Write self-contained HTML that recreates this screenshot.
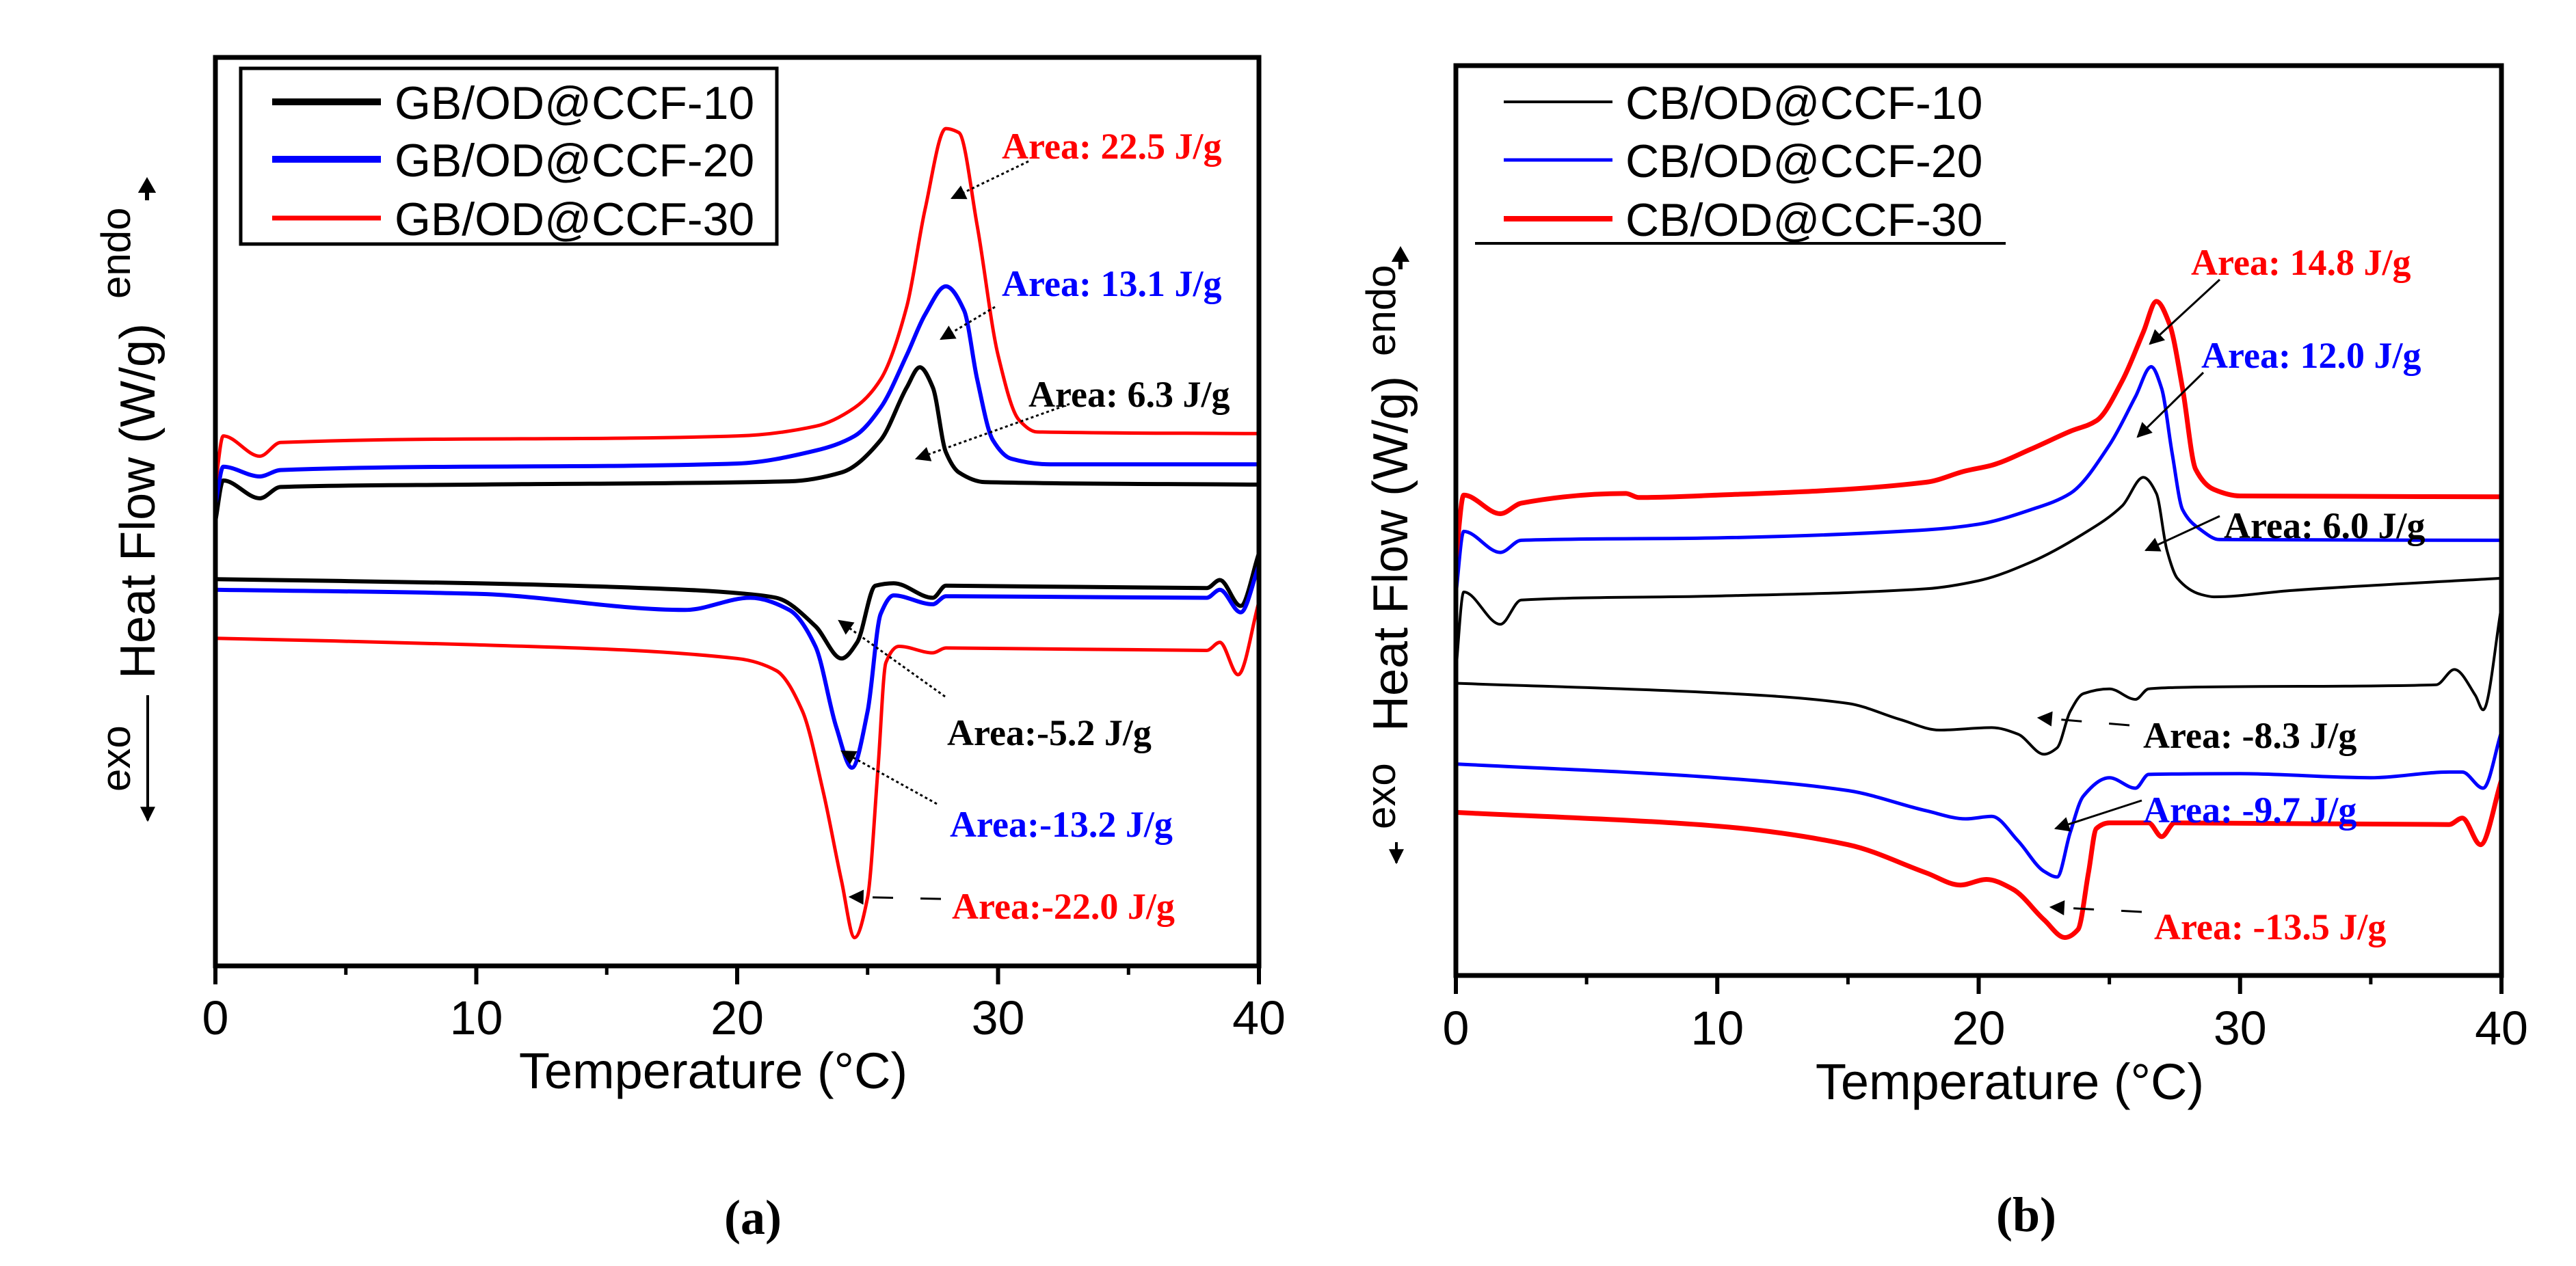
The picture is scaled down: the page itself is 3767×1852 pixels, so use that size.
<!DOCTYPE html>
<html><head><meta charset="utf-8"><style>
html,body{margin:0;padding:0;background:#fff;}
svg{display:block;}
</style></head><body>
<svg id="fig" width="3767" height="1852" viewBox="0 0 3767 1852" xmlns="http://www.w3.org/2000/svg" font-family="'Liberation Sans', sans-serif">
<defs>
<marker id="ahb" viewBox="0 0 10 10" refX="9" refY="5" markerWidth="26" markerHeight="22" markerUnits="userSpaceOnUse" orient="auto"><path d="M0,0 L10,5 L0,10 z" fill="#000"/></marker>
</defs>
<g id="panelA"></g>
<g id="panelB"></g>
<text x="1101" y="1805" font-family="'Liberation Serif', serif" font-weight="bold" font-size="72" text-anchor="middle">(a)</text>
<text x="2963" y="1801" font-family="'Liberation Serif', serif" font-weight="bold" font-size="72" text-anchor="middle">(b)</text>
</svg>
<script>
// ---------- data (temperature in °C, heat flow in arbitrary offset units) ----------
const xTickLabels = ["0","10","20","30","40"];
const xTickValues = [0,10,20,30,40];
const xMinorValues = [5,15,25,35];

// Panel (a)
const aSeriesNames = ["GB/OD@CCF-10","GB/OD@CCF-20","GB/OD@CCF-30"];
const aHeat10T = [0,0.3,1.7,2.5,10,22,24,25.5,26.5,27,27.5,28,28.5,29.5,40];
const aHeat10V = [5.50,6.00,5.78,5.92,5.95,5.99,6.10,6.50,7.15,7.40,7.15,6.35,6.10,5.98,5.95];
const aHeat20T = [0,0.3,1.7,2.5,20,23,24.5,25.5,26.5,27.2,28,28.7,29.2,29.8,30.5,32,40];
const aHeat20V = [5.70,6.17,6.05,6.13,6.21,6.37,6.55,6.90,7.55,8.05,8.40,8.10,7.25,6.50,6.27,6.20,6.20];
const aHeat30T = [0,0.3,1.7,2.5,20,23,24.5,25.5,26.5,27.2,28,28.5,29.2,30,30.8,31.5,40];
const aHeat30V = [5.95,6.55,6.30,6.47,6.55,6.67,6.90,7.25,8.15,9.35,10.35,10.30,9.15,7.55,6.75,6.60,6.58];
const aCool10T = [0,10,18,20.3,21.5,23,24,24.6,25.3,26,27.5,28,38,38.5,39.3,40];
const aCool10V = [4.78,4.73,4.65,4.60,4.55,4.20,3.80,4.00,4.70,4.73,4.55,4.70,4.67,4.77,4.45,5.10];
const aCool20T = [0,10,18,20.5,22,23,23.8,24.4,25,25.5,26,27.5,28,38,38.5,39.3,40];
const aCool20V = [4.65,4.60,4.40,4.55,4.40,3.95,2.95,2.45,3.15,4.35,4.58,4.47,4.57,4.55,4.65,4.37,4.95];
const aCool30T = [0,10,20,21.5,22.5,23.3,24,24.5,25,25.4,25.7,26.2,27.5,28,38,38.5,39.2,40];
const aCool30V = [4.05,3.97,3.80,3.65,3.15,2.15,1.05,0.35,0.85,2.45,3.75,3.95,3.87,3.93,3.90,4.00,3.60,4.50];
const aAreaLabels = ["Area: 22.5  J/g","Area: 13.1 J/g","Area: 6.3 J/g","Area:-5.2 J/g","Area:-13.2 J/g","Area:-22.0 J/g"];

// Panel (b)
const bSeriesNames = ["CB/OD@CCF-10","CB/OD@CCF-20","CB/OD@CCF-30"];
const bHeat10T = [0,0.3,1.7,2.5,10,18,20,22,24,25.5,26.3,26.8,27.2,27.6,28.5,29,32,40];
const bHeat10V = [3.77,4.75,4.35,4.65,4.70,4.79,4.89,5.12,5.47,5.82,6.17,5.97,5.27,4.92,4.72,4.69,4.77,4.92];
const bHeat20T = [0,0.3,1.7,2.5,10,18,20,22,23.5,25,26,26.6,27,27.4,27.8,28.5,29.2,40];
const bHeat20V = [4.72,5.50,5.24,5.39,5.42,5.52,5.59,5.77,5.97,6.57,7.17,7.54,7.27,6.47,5.77,5.52,5.40,5.39];
const bHeat30T = [0,0.3,1.7,2.5,6.5,7,10,18,19.5,20.5,22,23.5,24.5,25.5,26.3,26.8,27.3,27.8,28.3,29,30,40];
const bHeat30V = [5.17,5.95,5.72,5.85,5.97,5.92,5.95,6.11,6.25,6.32,6.52,6.74,6.87,7.37,7.97,8.35,8.07,7.27,6.27,6.02,5.94,5.93];
const bCool10T = [0,10,15,17,18.5,20.5,21.5,22.5,23,23.5,24,25,26,26.5,28,37.5,38.2,39,39.3,40];
const bCool10V = [3.62,3.50,3.37,3.17,3.04,3.07,2.99,2.74,2.82,3.27,3.49,3.55,3.42,3.55,3.57,3.60,3.79,3.47,3.29,4.57];
const bCool20T = [0,10,15,18,19.5,20.5,21.5,22.5,23,23.5,24,25,26,26.5,30,35,38,38.5,39.3,40];
const bCool20V = [2.62,2.45,2.29,2.04,1.94,1.97,1.67,1.29,1.22,1.77,2.22,2.45,2.32,2.49,2.50,2.45,2.52,2.52,2.32,3.02];
const bCool30T = [0,10,15,18,19.3,20.3,21.3,22.5,23.3,23.8,24.2,24.5,25,26.5,27,27.5,38,38.5,39.2,40];
const bCool30V = [2.02,1.85,1.62,1.27,1.12,1.19,1.07,0.69,0.47,0.57,1.27,1.82,1.89,1.89,1.72,1.89,1.87,1.95,1.62,2.42];
const bAreaLabels = ["Area: 14.8 J/g","Area: 12.0 J/g","Area: 6.0 J/g","Area: -8.3 J/g","Area: -9.7 J/g","Area: -13.5 J/g"];

// ---------- rendering ----------
const NS = "http://www.w3.org/2000/svg";
function mk(parent, tag, attrs, txt){
  const e = document.createElementNS(NS, tag);
  for (const k in attrs) e.setAttribute(k, attrs[k]);
  if (txt !== undefined) e.textContent = txt;
  parent.appendChild(e); return e;
}
function linScale(d0,d1,r0,r1){ return v => r0 + (v-d0)/(d1-d0)*(r1-r0); }
// monotone cubic (Fritsch-Carlson) in x: no overshoot, no loops
function smoothPath(pts){
  const n = pts.length;
  const dx=[], sl=[];
  for (let i=0;i<n-1;i++){ dx[i]=pts[i+1][0]-pts[i][0]; sl[i]=(pts[i+1][1]-pts[i][1])/dx[i]; }
  const m=[];
  m[0]=sl[0]; m[n-1]=sl[n-2];
  for (let i=1;i<n-1;i++){
    if (sl[i-1]*sl[i]<=0) m[i]=0;
    else { const w1=2*dx[i]+dx[i-1], w2=dx[i]+2*dx[i-1]; m[i]=(w1+w2)/(w1/sl[i-1]+w2/sl[i]); }
  }
  let d = "M" + pts[0][0].toFixed(1) + "," + pts[0][1].toFixed(1);
  for (let i=0;i<n-1;i++){
    const h=dx[i]/3;
    d += " C"+(pts[i][0]+h).toFixed(1)+","+(pts[i][1]+m[i]*h).toFixed(1)+" "+(pts[i+1][0]-h).toFixed(1)+","+(pts[i+1][1]-m[i+1]*h).toFixed(1)+" "+pts[i+1][0].toFixed(1)+","+pts[i+1][1].toFixed(1);
  }
  return d;
}

function drawPanel(g, cfg){
  const xs = linScale(0,40,cfg.left,cfg.right);
  const ys = linScale(0,cfg.vmax,cfg.bottom,cfg.top);
  cfg.series.forEach(s=>{
    const pts = s.t.map((t,i)=>[xs(t), ys(s.v[i])]);
    const p = mk(g,"path",{d:smoothPath(pts),fill:"none",stroke:s.color,"stroke-width":s.w,"stroke-linejoin":"round"});
    
    
  });
  const fr = mk(g,"rect",{x:cfg.left,y:cfg.top,width:cfg.right-cfg.left,height:cfg.bottom-cfg.top,fill:"none",stroke:"#000","stroke-width":7});
  
  
  xTickValues.forEach((v,i)=>{
    const x = xs(v);
    const tk = mk(g,"line",{x1:x,y1:cfg.bottom,x2:x,y2:cfg.bottom+27,stroke:"#000","stroke-width":6});
    
    
    const lb = mk(g,"text",{x:x,y:cfg.tickY,"font-size":70,"text-anchor":"middle"},xTickLabels[i]);
    
    
  });
  xMinorValues.forEach(v=>{
    const x = xs(v);
    const tk = mk(g,"line",{x1:x,y1:cfg.bottom,x2:x,y2:cfg.bottom+13,stroke:"#000","stroke-width":5});
    
    
  });
  const xt = mk(g,"text",{x:cfg.titleX,y:cfg.titleY,"font-size":74,"text-anchor":"middle"},"Temperature (°C)");
  
  
  const yl = cfg.ylab;
  const e1 = mk(g,"text",{transform:`translate(${yl.exoX},${yl.exoY}) rotate(-90)`,"font-size":60},"exo");
  
  
  const e2 = mk(g,"text",{transform:`translate(${yl.hfX},${yl.hfY}) rotate(-90)`,"font-size":72},"Heat Flow (W/g)");
  
  
  const e3 = mk(g,"text",{transform:`translate(${yl.endoX},${yl.endoY}) rotate(-90)`,"font-size":60},"endo");
  
  
  const ar = mk(g,"line",{x1:yl.arX,y1:yl.arY1,x2:yl.arX,y2:yl.arY2,stroke:"#000","stroke-width":4,"marker-end":"url(#ahb)"});
  
  
  const en = mk(g,"path",{d:`M${yl.enX-8},${yl.enY+14} L${yl.enX},${yl.enY} L${yl.enX+8},${yl.enY+14} z M${yl.enX},${yl.enY+10} L${yl.enX},${yl.enY+28}`,fill:"#000",stroke:"#000","stroke-width":6});
  
  
  const L = cfg.legend;
  if (L.box){
    const bx = mk(g,"rect",{x:L.box[0],y:L.box[1],width:L.box[2],height:L.box[3],fill:"#fff",stroke:"#000","stroke-width":5});
    
    
  }
  if (L.underline){
    const ul = mk(g,"line",{x1:L.underline[0],y1:L.underline[1],x2:L.underline[2],y2:L.underline[1],stroke:"#000","stroke-width":4});
    
    
  }
  cfg.names.forEach((n,i)=>{
    const y = L.ys[i];
    const ln = mk(g,"line",{x1:L.x1,y1:y,x2:L.x2,y2:y,stroke:cfg.series[i].legendColor,"stroke-width":L.w[i]});
    
    
    const tx = mk(g,"text",{x:L.tx,y:y+25,"font-size":68},n);
    
    
  });
  cfg.ann.forEach((a,i)=>{
    const t = mk(g,"text",{x:a.x,y:a.y,"font-size":54,"font-family":"'Liberation Serif', serif","font-weight":"bold",fill:a.c},cfg.labels[i]);
    
    
    const l = mk(g,"line",{x1:a.a[0],y1:a.a[1],x2:a.a[2],y2:a.a[3],stroke:"#000","stroke-width":3,"stroke-dasharray":a.dash||"none","marker-end":"url(#ahb)"});
    
    
  });
}

drawPanel(document.getElementById("panelA"),{
  left:315,right:1841,top:84,bottom:1413,vmax:11.23,tickY:1513,titleX:1043,titleY:1592,
  names:aSeriesNames,
  series:[
    {name:"curve-gb10-heating",t:aHeat10T,v:aHeat10V,color:"#000",w:6,legendColor:"#000"},
    {name:"curve-gb20-heating",t:aHeat20T,v:aHeat20V,color:"#0000ff",w:6,legendColor:"#0000ff"},
    {name:"curve-gb30-heating",t:aHeat30T,v:aHeat30V,color:"#ff0000",w:5,legendColor:"#ff0000"},
    {name:"curve-gb10-cooling",t:aCool10T,v:aCool10V,color:"#000",w:6},
    {name:"curve-gb20-cooling",t:aCool20T,v:aCool20V,color:"#0000ff",w:6},
    {name:"curve-gb30-cooling",t:aCool30T,v:aCool30V,color:"#ff0000",w:5}
  ],
  ylab:{exoX:190,exoY:1158,hfX:226,hfY:993,endoX:190,endoY:437,arX:216,arY1:1017,arY2:1200,enX:215,enY:265},
  legend:{box:[352,100,784,257],x1:398,x2:557,ys:[149,233,319],w:[10,10,7],tx:577},
  labels:aAreaLabels,
  ann:[
    {x:1465,y:232,c:"#ff0000",a:[1504,236,1392,290],dash:"4 4"},
    {x:1465,y:433,c:"#0000ff",a:[1455,449,1376,496],dash:"4 4"},
    {x:1504,y:595,c:"#000",a:[1564,591,1340,671],dash:"4 4"},
    {x:1385,y:1090,c:"#000",a:[1382,1019,1227,908],dash:"4 4"},
    {x:1389,y:1224,c:"#0000ff",a:[1370,1176,1231,1099],dash:"4 4"},
    {x:1392,y:1344,c:"#ff0000",a:[1376,1315,1243,1312],dash:"30 40"}
  ]
});

drawPanel(document.getElementById("panelB"),{
  left:2129,right:3658,top:96,bottom:1427,vmax:11.27,tickY:1528,titleX:2939,titleY:1608,
  names:bSeriesNames,
  series:[
    {name:"curve-cb10-heating",t:bHeat10T,v:bHeat10V,color:"#000",w:4,legendColor:"#000"},
    {name:"curve-cb20-heating",t:bHeat20T,v:bHeat20V,color:"#0000ff",w:5,legendColor:"#0000ff"},
    {name:"curve-cb30-heating",t:bHeat30T,v:bHeat30V,color:"#ff0000",w:7,legendColor:"#ff0000"},
    {name:"curve-cb10-cooling",t:bCool10T,v:bCool10V,color:"#000",w:4},
    {name:"curve-cb20-cooling",t:bCool20T,v:bCool20V,color:"#0000ff",w:5},
    {name:"curve-cb30-cooling",t:bCool30T,v:bCool30V,color:"#ff0000",w:7}
  ],
  ylab:{exoX:2040,exoY:1213,hfX:2058,hfY:1070,endoX:2040,endoY:521,arX:2042,arY1:1232,arY2:1262,enX:2048,enY:366},
  legend:{underline:[2157,356,2933],x1:2199,x2:2358,ys:[149,234,320],w:[4,5,8],tx:2377},
  labels:bAreaLabels,
  ann:[
    {x:3204,y:402,c:"#ff0000",a:[3246,409,3144,503]},
    {x:3219,y:538,c:"#0000ff",a:[3222,545,3126,639]},
    {x:3252,y:787,c:"#000",a:[3246,755,3138,805]},
    {x:3134,y:1094,c:"#000",a:[3114,1061,2981,1050],dash:"30 40"},
    {x:3134,y:1203,c:"#0000ff",a:[3132,1171,3006,1212]},
    {x:3150,y:1374,c:"#ff0000",a:[3132,1334,2999,1327],dash:"30 40"}
  ]
});
</script>
</body></html>
